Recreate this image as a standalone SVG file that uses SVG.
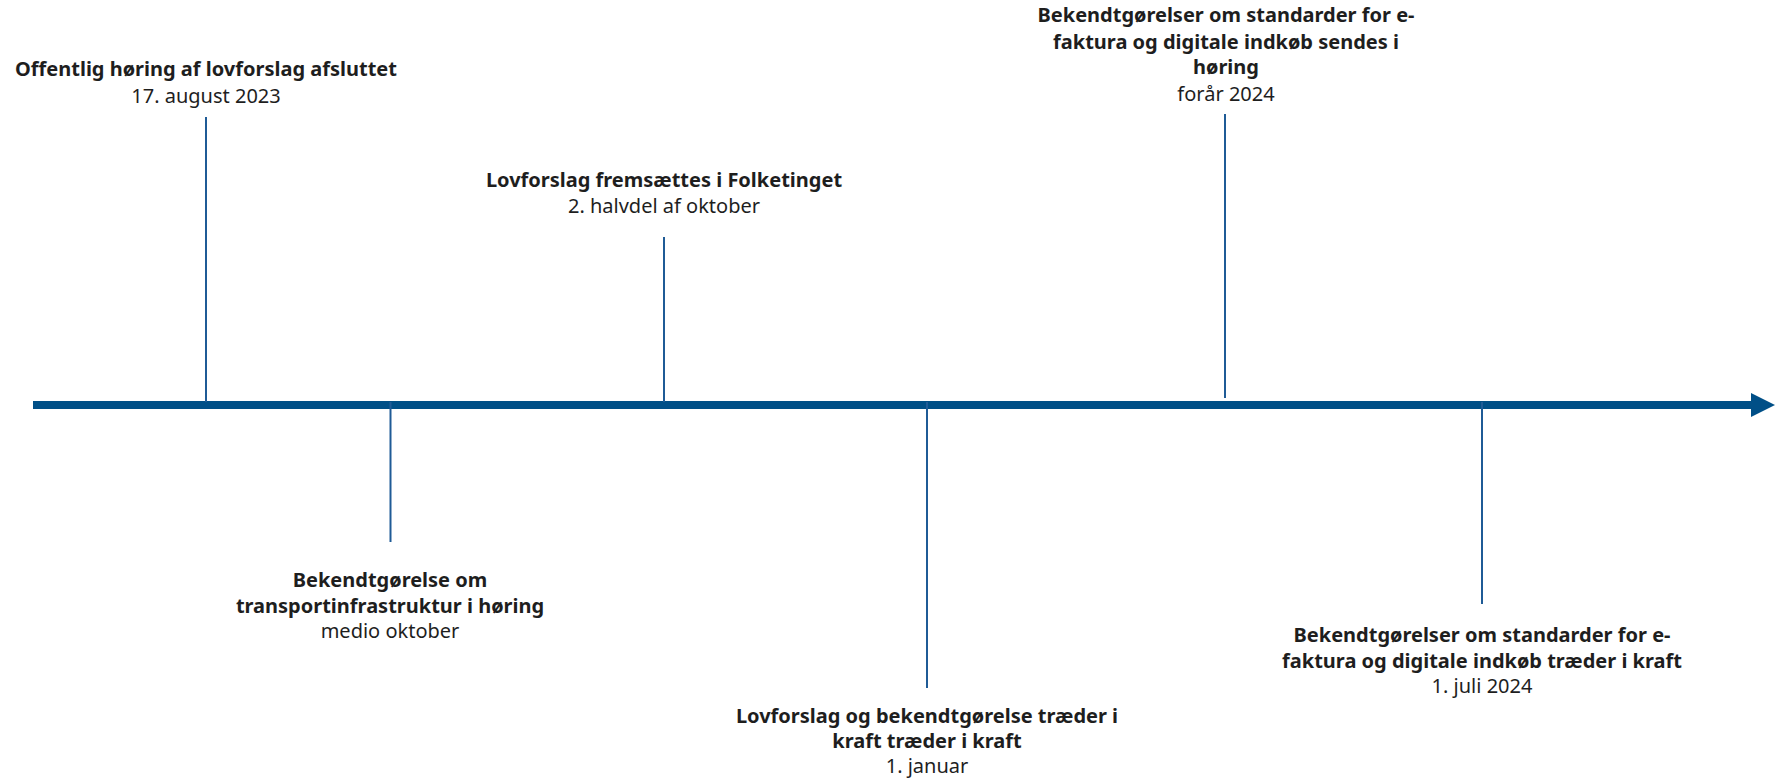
<svg xmlns="http://www.w3.org/2000/svg" width="1785" height="778" viewBox="0 0 1785 778">
<defs>
<style>
.t{font-family:"Noto Sans","Open Sans","Liberation Sans",sans-serif;font-size:20px;fill:#1e1e1e;text-anchor:middle}
.b{font-weight:bold}
.tick{stroke:#1f5b96;stroke-width:2;fill:none}
.axis{stroke:#004f87;stroke-width:8;fill:none}
</style>
<marker id="ah" markerUnits="userSpaceOnUse" markerWidth="26" markerHeight="26" refX="0" refY="12" orient="auto" viewBox="0 0 26 26">
<path d="M0,0 L24,12 L0,24 Z" fill="#004f87"/>
</marker>
</defs>
<rect width="1785" height="778" fill="#ffffff"/>
<g id="connectors">
<line class="axis" x1="33" y1="405" x2="1751" y2="405" marker-end="url(#ah)"/>
<line class="tick" x1="206" y1="117" x2="206" y2="402"/>
<line class="tick" x1="390.5" y1="402" x2="390.5" y2="542"/>
<line class="tick" x1="664" y1="237" x2="664" y2="402"/>
<line class="tick" x1="927" y1="402" x2="927" y2="688"/>
<line class="tick" x1="1225" y1="114" x2="1225" y2="398"/>
<line class="tick" x1="1482" y1="402" x2="1482" y2="604"/>
</g>
<g id="n1">
<text class="t b" x="206" y="76">Offentlig høring af lovforslag afsluttet</text>
<text class="t" x="206" y="103">17. august 2023</text>
</g>
<g id="n2">
<text class="t b" x="390" y="587">Bekendtgørelse om</text>
<text class="t b" x="390" y="613">transportinfrastruktur i høring</text>
<text class="t" x="390" y="638">medio oktober</text>
</g>
<g id="n3">
<text class="t b" x="664" y="187">Lovforslag fremsættes i Folketinget</text>
<text class="t" x="664" y="213">2. halvdel af oktober</text>
</g>
<g id="n4">
<text class="t b" x="927" y="723">Lovforslag og bekendtgørelse træder i</text>
<text class="t b" x="927" y="748">kraft træder i kraft</text>
<text class="t" x="927" y="773">1. januar</text>
</g>
<g id="n5">
<text class="t b" x="1226" y="22">Bekendtgørelser om standarder for e-</text>
<text class="t b" x="1226" y="49">faktura og digitale indkøb sendes i</text>
<text class="t b" x="1226" y="74">høring</text>
<text class="t" x="1226" y="101">forår 2024</text>
</g>
<g id="n6">
<text class="t b" x="1482" y="642">Bekendtgørelser om standarder for e-</text>
<text class="t b" x="1482" y="668">faktura og digitale indkøb træder i kraft</text>
<text class="t" x="1482" y="693">1. juli 2024</text>
</g>
</svg>
